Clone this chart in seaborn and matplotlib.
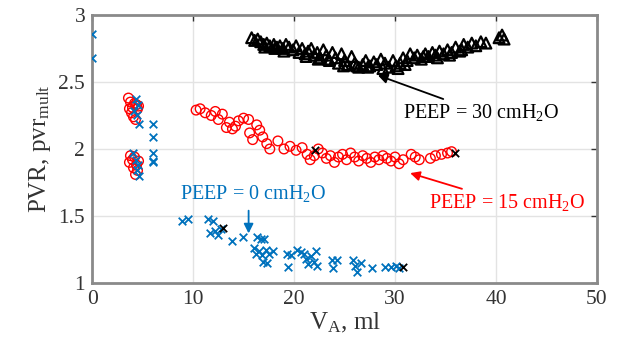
import numpy as np
import pandas as pd
import matplotlib
matplotlib.use("Agg")
import matplotlib.pyplot as plt
import seaborn as sns

# PEEP = 30 cmH2O (black triangles)
peep30_va = [15.8, 16.1, 16.4, 16.7, 17.0, 17.3, 17.6, 18.0, 18.3, 18.6, 18.9, 19.2,
             19.5, 19.9, 20.2, 20.5, 20.8, 21.1, 21.4, 21.7, 22.0, 22.3, 22.6, 22.9,
             23.2, 23.5, 23.8, 24.1, 24.4, 24.7, 25.0, 25.3, 25.7, 26.0, 26.4, 26.8,
             27.1, 27.5, 27.9, 28.2, 28.6, 29.0, 29.4, 29.8, 30.1, 30.5, 30.8, 31.2,
             31.5, 31.9, 32.2, 32.6, 33.0, 33.3, 33.7, 34.0, 34.4, 34.8, 35.2, 35.6,
             36.0, 36.4, 36.8, 37.2, 37.6, 38.0, 38.5, 39.0, 40.3, 40.6, 40.8,
             17.1, 18.1, 19.0, 21.2, 22.4, 23.4, 24.9, 26.2, 27.3, 28.8, 30.3, 31.0,
             32.8, 34.2, 35.4, 36.6]
peep30_pvr = [2.83, 2.81, 2.82, 2.80, 2.78, 2.79, 2.77, 2.78, 2.76, 2.77, 2.75, 2.78,
              2.76, 2.74, 2.77, 2.72, 2.75, 2.71, 2.73, 2.75, 2.70, 2.72, 2.68, 2.74,
              2.70, 2.66, 2.72, 2.68, 2.64, 2.71, 2.66, 2.63, 2.69, 2.64, 2.61, 2.63,
              2.66, 2.62, 2.65, 2.63, 2.67, 2.64, 2.61, 2.66, 2.62, 2.64, 2.68, 2.66,
              2.71, 2.68, 2.70, 2.67, 2.71, 2.69, 2.72, 2.70, 2.73, 2.71, 2.74, 2.72,
              2.76, 2.73, 2.78, 2.76, 2.79, 2.77, 2.80, 2.79, 2.83, 2.85, 2.82,
              2.76, 2.75, 2.73, 2.69, 2.67, 2.67, 2.62, 2.62, 2.61, 2.60, 2.60, 2.63,
              2.69, 2.68, 2.70, 2.74]

# PEEP = 15 cmH2O (red circles)
peep15_va = [3.6, 3.8, 4.0, 3.7, 4.2, 4.4, 4.6, 3.9, 4.1, 4.3, 4.5,
             3.8, 4.0, 4.2, 3.7, 4.4, 4.1, 4.5, 4.3, 4.6,
             10.3, 10.7, 11.2, 11.8, 12.2, 12.5, 12.9, 13.3, 13.6, 13.9, 14.2, 14.5,
             15.0, 15.5, 16.3, 15.6, 15.9, 16.6, 16.9, 17.3, 17.6, 18.4, 19.0, 19.6,
             20.2, 20.8, 21.3, 21.6, 22.0, 22.4, 22.8, 23.2, 23.6, 24.0, 24.4, 24.8,
             25.2, 25.6, 26.0, 26.4, 26.8, 27.2, 27.6, 28.0, 28.4, 28.8, 29.2, 29.6,
             30.0, 30.4, 30.8, 31.6, 32.0, 32.4, 33.5, 34.0, 34.6, 35.2, 35.6]
peep15_pvr = [2.38, 2.35, 2.31, 2.30, 2.34, 2.33, 2.32, 2.27, 2.24, 2.22, 2.30,
              1.95, 1.92, 1.94, 1.90, 1.88, 1.86, 1.84, 1.81, 1.91,
              2.29, 2.30, 2.27, 2.25, 2.28, 2.22, 2.26, 2.16, 2.20, 2.15, 2.17, 2.21,
              2.23, 2.22, 2.18, 2.12, 2.07, 2.14, 2.09, 2.04, 2.00, 2.06, 2.00, 2.02,
              1.99, 2.01, 1.96, 1.92, 1.95, 2.00, 1.97, 1.93, 1.95, 1.90, 1.94, 1.96,
              1.92, 1.97, 1.94, 1.91, 1.95, 1.93, 1.90, 1.94, 1.92, 1.95, 1.93, 1.91,
              1.94, 1.89, 1.92, 1.96, 1.94, 1.92, 1.93, 1.95, 1.96, 1.97, 1.98]

# PEEP = 0 cmH2O (blue crosses)
peep0_va = [0.0, 0.0, 4.3, 4.5, 4.2, 4.4, 4.6, 4.1, 4.3, 4.5, 4.4, 4.6,
            6.0, 6.0, 6.0, 6.0, 6.0, 8.9, 9.5, 11.5, 12.0, 11.7, 12.2, 12.5, 12.8,
            13.9, 14.9, 16.3, 16.7, 17.0, 16.0, 16.2, 16.5, 16.8, 17.2, 17.5, 17.9,
            16.9, 17.3, 19.3, 19.7, 19.4, 20.3, 20.7, 21.0, 21.2, 21.4, 21.7, 22.0,
            22.2, 22.3, 23.8, 23.9, 24.3, 25.8, 26.0, 26.2, 26.6, 27.7, 29.0, 29.6,
            30.1, 30.4]
peep0_pvr = [2.86, 2.68, 2.37, 2.33, 2.28, 2.25, 2.19, 1.97, 1.92, 1.88, 1.84, 1.80,
             2.19, 2.09, 1.97, 1.91, 1.90, 1.46, 1.48, 1.48, 1.46, 1.37, 1.39, 1.36, 1.40,
             1.31, 1.34, 1.34, 1.33, 1.33, 1.26, 1.22, 1.24, 1.21, 1.25, 1.22, 1.24,
             1.16, 1.15, 1.22, 1.21, 1.12, 1.25, 1.23, 1.22, 1.18, 1.14, 1.20, 1.16,
             1.24, 1.13, 1.17, 1.11, 1.17, 1.17, 1.13, 1.08, 1.15, 1.11, 1.12, 1.12,
             1.13, 1.11]

# highlighted points (black crosses)
marked_va = [13.0, 22.1, 30.8, 35.9]
marked_pvr = [1.41, 1.99, 1.12, 1.97]

x_ticks = [0, 10, 20, 30, 40, 50]
y_ticks = [1, 1.5, 2, 2.5, 3]
y_tick_labels = ["1", "1.5", "2", "2.5", "3"]

BLUE = "#0072BD"
RED = "#FF0000"
FRAME = "#8a8a8a"

sns.set_style("whitegrid")
plt.rcParams["font.family"] = ["Liberation Serif", "DejaVu Serif"]
plt.rcParams["mathtext.fontset"] = "custom"
plt.rcParams["mathtext.rm"] = "Liberation Serif"
plt.rcParams["mathtext.it"] = "Liberation Serif:italic"

fig = plt.figure(figsize=(6.18, 3.56), dpi=100)
ax = fig.add_axes([0.149, 0.205, 0.817, 0.753])

df30 = pd.DataFrame({"va": peep30_va, "pvr": peep30_pvr})
df15 = pd.DataFrame({"va": peep15_va, "pvr": peep15_pvr})
df0 = pd.DataFrame({"va": peep0_va, "pvr": peep0_pvr})
dfm = pd.DataFrame({"va": marked_va, "pvr": marked_pvr})

sns.scatterplot(data=df30, x="va", y="pvr", ax=ax, marker="^", s=60,
                facecolor="none", edgecolor="black", linewidth=1.6, zorder=3)
sns.scatterplot(data=df15, x="va", y="pvr", ax=ax, marker="o", s=48,
                facecolor="none", edgecolor=RED, linewidth=1.0, zorder=3)
sns.scatterplot(data=df0, x="va", y="pvr", ax=ax, marker="x", s=30,
                color=BLUE, linewidth=1.3, zorder=4)
sns.scatterplot(data=dfm, x="va", y="pvr", ax=ax, marker="x", s=28,
                color="black", linewidth=1.3, zorder=5)

ax.set_xlim(0, 50)
ax.set_ylim(1, 3)
ax.set_xticks(x_ticks)
ax.set_yticks(y_ticks)
ax.set_yticklabels(y_tick_labels)
ax.grid(True, color="#e3e3e3", linewidth=1.0)
ax.tick_params(axis="both", labelsize=15.5, colors="#333333", direction="in",
               length=4, width=1, top=True, right=True, pad=5)
for t in ax.get_xticklabels() + ax.get_yticklabels():
    t.set_color("#333333")
for sp in ax.spines.values():
    sp.set_color(FRAME)
    sp.set_linewidth(2)

ax.set_xlabel(r"V$_{\rm A}$, ml", fontsize=18, color="#333333", labelpad=1)
ax.set_ylabel(r"PVR, pvr$_{\rm mult}$", fontsize=18, color="#333333", labelpad=4)

ann_size = 14.5
ax.annotate(r"PEEP = 30 cmH$_{\rm 2}$O", xy=(28.3, 2.55), xytext=(30.8, 2.27),
            fontsize=ann_size, color="black", va="center", ha="left",
            arrowprops=dict(arrowstyle="-|>", color="black", lw=1.3,
                            shrinkA=0, shrinkB=0, mutation_scale=14))
ax.annotate(r"PEEP = 15 cmH$_{\rm 2}$O", xy=(31.5, 1.82), xytext=(33.4, 1.60),
            fontsize=ann_size, color=RED, va="center", ha="left",
            arrowprops=dict(arrowstyle="-|>", color=RED, lw=1.3,
                            shrinkA=0, shrinkB=0, mutation_scale=14))
ax.text(8.7, 1.67, r"PEEP = 0 cmH$_{\rm 2}$O", fontsize=ann_size, color=BLUE,
        va="center", ha="left")
ax.annotate("", xy=(15.5, 1.37), xytext=(15.5, 1.54),
            arrowprops=dict(arrowstyle="-|>", color=BLUE, lw=1.3,
                            shrinkA=0, shrinkB=0, mutation_scale=14))

fig.savefig("out.png", dpi=100)
plt.close(fig)
